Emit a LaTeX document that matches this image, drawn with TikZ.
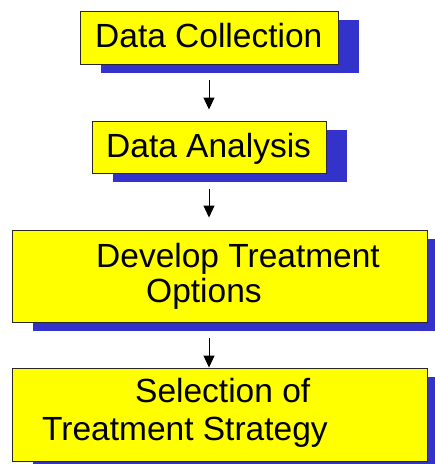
\documentclass[tikz,border=0pt]{standalone}
\usepackage{fontspec}
\setmainfont{Liberation Sans}
\usetikzlibrary{shadows,arrows.meta}
\definecolor{boxyellow}{RGB}{255,255,0}
\definecolor{shadowblue}{RGB}{51,51,204}
\definecolor{edgegray}{RGB}{40,40,40}
\begin{document}
\begin{tikzpicture}[x=1pt,y=-1pt,
  stagebox/.style={draw=edgegray,line width=0.9pt,fill=boxyellow,inner sep=0pt,
    drop shadow={shadow xshift=21pt,shadow yshift=-9pt,fill=shadowblue,opacity=1}},
  label/.style={anchor=base west,inner sep=0pt,font=\fontsize{33.5}{40}\selectfont},
  flow/.style={line width=1pt,-{Triangle[length=12pt,width=11pt]}}]
\useasboundingbox (0,0) rectangle (435,464);
\node[stagebox,minimum width=258pt,minimum height=53pt] (b1) at (209,37.5) {};
\node[stagebox,minimum width=234pt,minimum height=52pt] (b2) at (209,147) {};
\node[stagebox,minimum width=415pt,minimum height=92pt] (b3) at (219.5,276) {};
\node[stagebox,minimum width=415pt,minimum height=93pt] (b4) at (219.5,414.5) {};
\node[label] (t1) at (95,47) {Data Collection};
\node[label] (t2) at (106,157) {Data Analysis};
\node[label] (t3a) at (96,267) {Develop Treatment};
\node[label] (t3b) at (146,302) {Options};
\node[label] (t4a) at (135,402) {Selection of};
\node[label] (t4b) at (42,440) {Treatment Strategy};
\draw[flow,shorten <=16pt,shorten >=11pt] (b1.south) -- (b1.south |- b2.north);
\draw[flow,shorten <=16pt,shorten >=12pt] (b2.south) -- (b2.south |- b3.north);
\draw[flow,shorten <=16pt] (b3.south -| b2.south) -- (b2.south |- b4.north);
\end{tikzpicture}
\end{document}
